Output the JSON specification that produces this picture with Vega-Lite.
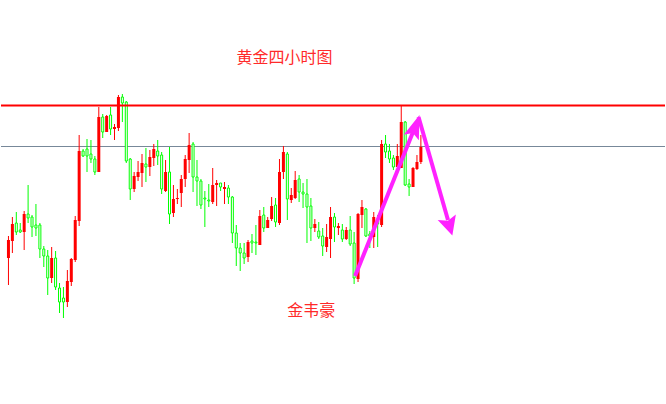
{
  "$schema": "https://vega.github.io/schema/vega-lite/v6.json",
  "autosize": {"type": "fit", "contains": "padding"},
  "width": 666,
  "height": 404,
  "padding": 0,
  "background": "white",
  "config": {"view": {"stroke": null}},
  "datasets": {
    "candles": [
      {"t":0,"o":146,"h":168,"l":119,"c":164},
      {"t":1,"o":163,"h":187,"l":151,"c":180},
      {"t":2,"o":181,"h":192,"l":169,"c":172},
      {"t":3,"o":174,"h":181,"l":171,"c":172},
      {"t":4,"o":172,"h":193,"l":154,"c":190},
      {"t":5,"o":190,"h":219,"l":181,"c":186},
      {"t":6,"o":187,"h":189,"l":167,"c":177},
      {"t":7,"o":179,"h":200,"l":168,"c":176},
      {"t":8,"o":179,"h":181,"l":146,"c":155},
      {"t":9,"o":155,"h":158,"l":137,"c":148},
      {"t":10,"o":148,"h":154,"l":109,"c":126},
      {"t":11,"o":126,"h":157,"l":121,"c":146},
      {"t":12,"o":146,"h":153,"l":114,"c":117},
      {"t":13,"o":116,"h":121,"l":91,"c":102},
      {"t":14,"o":106,"h":117,"l":86,"c":102},
      {"t":15,"o":102,"h":134,"l":97,"c":123},
      {"t":16,"o":122,"h":146,"l":118,"c":145},
      {"t":17,"o":144,"h":188,"l":142,"c":184},
      {"t":18,"o":183,"h":269,"l":178,"c":253},
      {"t":19,"o":253,"h":255,"l":247,"c":248},
      {"t":20,"o":255,"h":265,"l":232,"c":248},
      {"t":21,"o":250,"h":264,"l":241,"c":245},
      {"t":22,"o":245,"h":248,"l":229,"c":232},
      {"t":23,"o":232,"h":297,"l":232,"c":287},
      {"t":24,"o":287,"h":290,"l":266,"c":272},
      {"t":25,"o":272,"h":289,"l":272,"c":288},
      {"t":26,"o":289,"h":297,"l":269,"c":275},
      {"t":27,"o":275,"h":280,"l":264,"c":277},
      {"t":28,"o":276,"h":309,"l":273,"c":307},
      {"t":29,"o":307,"h":310,"l":282,"c":301},
      {"t":30,"o":302,"h":303,"l":241,"c":243},
      {"t":31,"o":245,"h":246,"l":204,"c":215},
      {"t":32,"o":215,"h":232,"l":212,"c":228},
      {"t":33,"o":227,"h":243,"l":223,"c":232},
      {"t":34,"o":231,"h":250,"l":217,"c":241},
      {"t":35,"o":240,"h":256,"l":222,"c":237},
      {"t":36,"o":237,"h":254,"l":228,"c":247},
      {"t":37,"o":246,"h":260,"l":238,"c":255},
      {"t":38,"o":253,"h":264,"l":239,"c":248},
      {"t":39,"o":249,"h":252,"l":210,"c":215},
      {"t":40,"o":213,"h":244,"l":212,"c":232},
      {"t":41,"o":232,"h":257,"l":180,"c":190},
      {"t":42,"o":191,"h":219,"l":187,"c":205},
      {"t":43,"o":205,"h":215,"l":200,"c":206},
      {"t":44,"o":211,"h":229,"l":197,"c":225},
      {"t":45,"o":225,"h":249,"l":217,"c":245},
      {"t":46,"o":244,"h":271,"l":231,"c":259},
      {"t":47,"o":260,"h":262,"l":212,"c":227},
      {"t":48,"o":227,"h":244,"l":198,"c":223},
      {"t":49,"o":223,"h":225,"l":195,"c":199},
      {"t":50,"o":206,"h":213,"l":177,"c":205},
      {"t":51,"o":204,"h":220,"l":197,"c":203},
      {"t":52,"o":202,"h":236,"l":200,"c":219},
      {"t":53,"o":219,"h":224,"l":198,"c":221},
      {"t":54,"o":221,"h":221,"l":213,"c":217},
      {"t":55,"o":215,"h":222,"l":200,"c":217},
      {"t":56,"o":216,"h":219,"l":200,"c":207},
      {"t":57,"o":207,"h":208,"l":161,"c":171},
      {"t":58,"o":171,"h":179,"l":138,"c":156},
      {"t":59,"o":156,"h":161,"l":133,"c":151},
      {"t":60,"o":151,"h":161,"l":140,"c":146},
      {"t":61,"o":147,"h":164,"l":142,"c":162},
      {"t":62,"o":163,"h":170,"l":151,"c":161},
      {"t":63,"o":162,"h":179,"l":149,"c":161},
      {"t":64,"o":159,"h":194,"l":159,"c":188},
      {"t":65,"o":189,"h":197,"l":172,"c":176},
      {"t":66,"o":176,"h":187,"l":176,"c":184},
      {"t":67,"o":185,"h":207,"l":183,"c":198},
      {"t":68,"o":199,"h":206,"l":177,"c":182},
      {"t":69,"o":181,"h":245,"l":179,"c":232},
      {"t":70,"o":232,"h":258,"l":225,"c":252},
      {"t":71,"o":250,"h":252,"l":184,"c":205},
      {"t":72,"o":204,"h":216,"l":201,"c":209},
      {"t":73,"o":206,"h":233,"l":205,"c":224},
      {"t":74,"o":225,"h":229,"l":202,"c":212},
      {"t":75,"o":212,"h":221,"l":196,"c":210},
      {"t":76,"o":210,"h":225,"l":161,"c":197},
      {"t":77,"o":198,"h":206,"l":163,"c":176},
      {"t":78,"o":176,"h":185,"l":172,"c":180},
      {"t":79,"o":173,"h":182,"l":165,"c":167},
      {"t":80,"o":168,"h":176,"l":148,"c":158},
      {"t":81,"o":157,"h":180,"l":152,"c":167},
      {"t":82,"o":165,"h":197,"l":146,"c":187},
      {"t":83,"o":187,"h":191,"l":162,"c":177},
      {"t":84,"o":176,"h":181,"l":169,"c":178},
      {"t":85,"o":174,"h":180,"l":162,"c":165},
      {"t":86,"o":165,"h":177,"l":164,"c":174},
      {"t":87,"o":174,"h":188,"l":158,"c":160},
      {"t":88,"o":161,"h":172,"l":120,"c":126},
      {"t":89,"o":125,"h":191,"l":122,"c":190},
      {"t":90,"o":189,"h":204,"l":176,"c":197},
      {"t":91,"o":195,"h":196,"l":167,"c":168},
      {"t":92,"o":170,"h":173,"l":156,"c":168},
      {"t":93,"o":167,"h":192,"l":156,"c":187},
      {"t":94,"o":183,"h":189,"l":157,"c":180},
      {"t":95,"o":179,"h":264,"l":177,"c":260},
      {"t":96,"o":260,"h":269,"l":246,"c":252},
      {"t":97,"o":253,"h":260,"l":241,"c":245},
      {"t":98,"o":246,"h":249,"l":234,"c":237},
      {"t":99,"o":237,"h":260,"l":237,"c":248},
      {"t":100,"o":236,"h":299,"l":236,"c":282},
      {"t":101,"o":282,"h":283,"l":218,"c":219},
      {"t":102,"o":220,"h":225,"l":208,"c":217},
      {"t":103,"o":217,"h":237,"l":217,"c":236},
      {"t":104,"o":235,"h":249,"l":234,"c":242},
      {"t":105,"o":242,"h":269,"l":240,"c":257}
    ],
    "levels": [
      {"name":"resistance","v":298.5},
      {"name":"pivot","v":257.5}
    ],
    "arrows": [
      {"arrow":"up","t":88.25,"v":128},
      {"arrow":"up","t":103.4,"v":276},
      {"arrow":"down","t":104.4,"v":287},
      {"arrow":"down","t":111.9,"v":184}
    ],
    "labels": [
      {"label":"黄金四小时图","t":70.3,"v":346},
      {"label":"金韦豪","t":77.1,"v":93}
    ]
  },
  "layer": [
    {
      "data": {"name": "levels"},
      "transform": [{"filter": "datum.name == 'pivot'"}],
      "mark": {"type": "rule", "color": "#778899", "strokeWidth": 1},
      "encoding": {"y": {"field": "v", "type": "quantitative", "scale": {"domain": [0, 404], "nice": false, "zero": false}, "axis": null}}
    },
    {
      "data": {"name": "candles"},
      "mark": {"type": "rule", "strokeWidth": 1},
      "encoding": {
        "x": {"field": "t", "type": "quantitative", "scale": {"domain": [-0.625, 165.875], "nice": false, "zero": false}, "axis": null},
        "y": {"field": "l", "type": "quantitative", "scale": {"domain": [0, 404], "nice": false, "zero": false}, "axis": null},
        "y2": {"field": "h"},
        "color": {"condition": {"test": "datum.c > datum.o", "value": "#ff0000"}, "value": "#00ff00"}
      }
    },
    {
      "data": {"name": "candles"},
      "transform": [{"filter": "datum.c > datum.o"}],
      "mark": {"type": "bar", "size": 3, "color": "#ff0000"},
      "encoding": {
        "x": {"field": "t", "type": "quantitative"},
        "y": {"field": "o", "type": "quantitative"},
        "y2": {"field": "c"}
      }
    },
    {
      "data": {"name": "candles"},
      "transform": [{"filter": "datum.c <= datum.o"}],
      "mark": {"type": "bar", "size": 2, "fill": "white", "stroke": "#00ff00", "strokeWidth": 1},
      "encoding": {
        "x": {"field": "t", "type": "quantitative"},
        "y": {"field": "o", "type": "quantitative"},
        "y2": {"field": "c"}
      }
    },
    {
      "data": {"name": "levels"},
      "transform": [{"filter": "datum.name == 'resistance'"}],
      "mark": {"type": "rule", "color": "#ff0000", "strokeWidth": 2},
      "encoding": {"y": {"field": "v", "type": "quantitative"}}
    },
    {
      "data": {"name": "arrows"},
      "mark": {"type": "line", "color": "#ff22ff", "strokeWidth": 4, "strokeCap": "butt"},
      "encoding": {
        "x": {"field": "t", "type": "quantitative"},
        "y": {"field": "v", "type": "quantitative"},
        "detail": {"field": "arrow"}
      }
    },
    {
      "data": {"values": [{"t": 103.6, "v": 277.7}]},
      "mark": {"type": "point", "shape": "M0,-1L0.67,1L0,0.6L-0.67,1Z", "size": 576, "angle": 20, "filled": true, "color": "#ff22ff", "opacity": 1},
      "encoding": {
        "x": {"field": "t", "type": "quantitative"},
        "y": {"field": "v", "type": "quantitative"}
      }
    },
    {
      "data": {"values": [{"t": 112.3, "v": 177.7}]},
      "mark": {"type": "point", "shape": "M0,-1L1,1L0,0.6L-1,1Z", "size": 361, "angle": 163, "filled": true, "color": "#ff22ff", "opacity": 1},
      "encoding": {
        "x": {"field": "t", "type": "quantitative"},
        "y": {"field": "v", "type": "quantitative"}
      }
    },
    {
      "data": {"name": "labels"},
      "mark": {"type": "text", "font": "Noto Sans CJK SC", "fontSize": 16, "color": "#ff2a2a", "align": "center", "baseline": "middle"},
      "encoding": {
        "x": {"field": "t", "type": "quantitative"},
        "y": {"field": "v", "type": "quantitative"},
        "text": {"field": "label"}
      }
    }
  ]
}
